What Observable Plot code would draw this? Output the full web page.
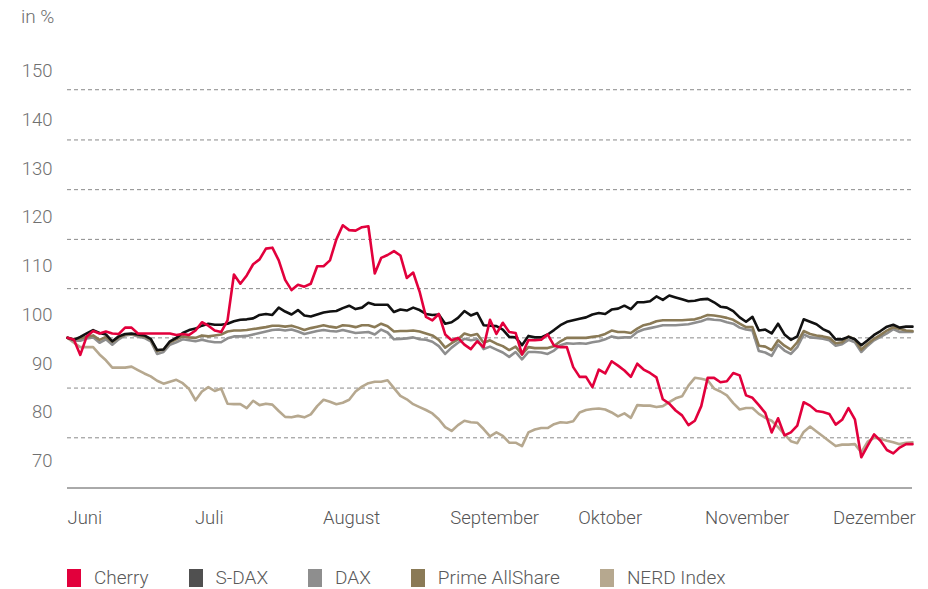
<!DOCTYPE html>
<html><head><meta charset="utf-8">
<script src="https://cdn.jsdelivr.net/npm/d3@7"></script>
<script src="https://cdn.jsdelivr.net/npm/@observablehq/plot@0.6"></script>
<style>
body{margin:0;background:#fff;font-family:Roboto,"Open Sans",sans-serif;font-weight:300;}
#wrap{position:relative;width:928px;height:589px;overflow:hidden;}
#unit{position:absolute;left:21px;top:5px;font-size:19px;color:#6e6e6e;line-height:24px;}
#chart{position:absolute;left:0;top:35px;}
#legend{position:absolute;left:67px;top:566px;display:flex;align-items:center;font-size:19px;color:#5a5a5a;line-height:24px;}
.item{display:flex;align-items:center;margin-right:40px;}
.sw{width:14px;height:18px;margin-right:13px;}
</style></head>
<body><div id="wrap"><div id="unit">in %</div><div id="chart"></div><div id="legend"></div></div>
<script>
const months = ["Juni","Juli","August","September","Oktober","November","Dezember"];
const monthTicks = [0,19.9,39.9,59.8,79.8,99.6,119.6];
const yTicks = [70,80,90,100,110,120,130,140,150];
const gridValues = [74.8,85.0,95.3,105.4,115.5,125.7,135.9,146.2];
const baseValue = 64.5;

const seriesNames = ["Cherry","S-DAX","DAX","Prime AllShare","NERD Index"];
const lineColors = ["#e2003c","#111111","#8e8e8e","#8a7a56","#b6a88f"];
const legendColors = ["#e2003c","#505050","#8e8e8e","#8a7a56","#b6a88f"];

const cherry = [95.3,94.9,91.8,95.6,96.7,96.2,96.6,96.2,96.1,97.4,
97.4,96.2,96.2,96.2,96.2,96.2,96.2,95.9,96.1,95.9,
96.8,98.5,97.8,96.8,96.5,98.9,108.3,106.4,108.1,110.4,
111.4,113.6,113.8,111.2,107.2,105.1,106.2,105.8,106.4,110.0,
110.0,111.2,115.5,118.4,117.4,117.3,118.0,118.2,108.5,111.7,
112.3,113.1,112.2,107.6,108.7,104.8,99.6,98.9,100.2,96.0,
94.8,95.3,93.9,93.0,94.6,93.4,99.0,96.1,98.4,96.5,
96.3,91.9,94.8,94.8,94.9,96.0,93.7,93.4,93.4,89.3,
87.3,87.3,85.2,88.8,88.0,90.5,89.6,88.6,87.3,90.0,
88.8,88.1,87.2,82.7,81.8,80.4,79.4,77.4,78.3,81.3,
87.1,87.1,86.2,86.4,88.1,87.6,83.5,83.0,81.5,79.9,
75.9,78.8,75.3,75.9,77.3,82.1,81.4,80.3,80.1,79.7,
77.5,78.5,80.9,78.6,70.8,73.2,75.5,74.2,72.3,71.6,
72.8,73.5,73.5];

const sdax = [95.3,94.9,95.5,96.2,96.9,96.3,96.0,94.6,95.6,96.1,
96.2,96.0,95.8,95.1,92.8,92.9,94.6,95.3,96.3,96.9,
97.2,97.8,98.2,98.0,98.0,98.2,98.7,99.0,99.1,99.3,
100.0,100.2,100.0,101.5,100.7,100.1,101.0,99.9,99.7,100.1,
100.5,100.7,100.8,101.4,101.9,101.2,101.5,102.5,102.1,102.1,
102.1,100.6,101.1,100.9,101.5,101.0,100.2,100.0,100.1,98.2,
98.5,99.4,100.8,99.9,100.4,97.9,97.8,97.7,97.0,95.5,
95.4,93.8,95.7,95.4,95.4,96.0,96.9,97.9,98.6,98.9,
99.2,99.5,100.1,100.4,100.2,101.1,101.3,101.9,101.2,102.6,
102.6,102.8,103.8,103.1,104.0,103.6,103.2,102.8,102.9,103.2,
103.3,102.6,101.7,101.5,100.8,99.5,98.6,99.6,96.8,97.0,
96.2,98.2,96.0,94.9,95.6,99.1,98.6,98.1,97.1,96.5,
95.0,95.0,95.5,95.0,93.8,94.8,95.9,96.7,97.6,98.0,
97.4,97.6,97.6];

const dax = [95.3,94.7,94.7,95.2,95.4,94.3,95.0,93.9,95.0,95.8,
96.0,95.6,95.3,94.6,92.0,92.4,93.9,94.4,95.0,94.8,
94.6,94.9,94.6,94.4,94.4,95.2,95.6,95.6,95.7,96.0,
96.3,96.6,96.9,97.0,96.8,97.0,96.6,96.1,96.4,96.7,
96.9,96.7,96.6,96.9,96.6,96.3,96.4,96.5,96.0,97.0,
96.4,95.0,95.1,95.2,95.4,95.0,94.9,94.5,93.6,92.0,
93.3,94.3,95.1,94.8,95.0,93.0,93.5,92.9,92.3,91.4,
92.4,90.9,92.4,92.4,92.3,92.0,92.7,93.8,94.2,94.1,
94.2,94.1,94.4,94.6,95.0,95.6,95.3,95.4,95.4,96.5,
97.0,97.3,97.6,97.9,97.9,97.9,98.0,98.1,98.4,98.7,
99.2,99.0,98.9,98.5,98.2,97.4,97.0,96.8,92.6,92.3,
91.6,93.9,92.7,92.0,93.4,96.0,95.4,95.3,95.1,94.8,
93.7,94.0,94.9,94.4,92.4,93.7,94.8,95.5,96.2,97.1,
96.5,96.5,96.5];

const prime = [95.3,95.0,95.2,95.5,95.8,94.9,95.5,94.5,95.4,96.0,
96.1,95.9,95.6,95.0,92.6,92.9,94.4,95.0,95.6,95.4,
95.3,95.8,95.6,95.8,96.0,96.6,96.8,96.8,96.9,97.1,
97.3,97.5,97.8,97.8,97.6,97.8,97.4,96.9,97.3,97.6,
97.9,97.6,97.4,97.9,97.8,97.5,97.9,97.9,97.5,98.2,
97.7,96.6,96.7,96.7,96.8,96.6,96.2,95.8,94.9,93.3,
94.2,95.0,96.2,95.8,96.1,94.3,94.8,94.1,93.6,92.8,
93.5,91.9,93.4,93.2,93.2,93.2,93.6,94.6,95.3,95.3,
95.3,95.3,95.5,95.7,96.1,96.8,96.5,96.5,96.3,97.2,
97.9,98.2,98.7,98.9,98.9,98.9,98.9,99.0,99.1,99.5,
100.0,99.9,99.7,99.4,99.0,98.2,97.5,97.5,93.7,93.5,
92.8,94.8,93.7,92.9,94.4,96.7,96.1,95.8,95.6,95.3,
94.2,94.4,95.6,95.0,92.9,94.1,95.1,95.9,96.8,97.5,
97.1,96.8,96.7];

const nerd = [95.3,94.3,93.4,93.4,93.4,91.9,90.7,89.2,89.2,89.2,
89.4,88.7,88.0,87.4,86.5,85.9,86.3,86.7,86.0,84.8,
82.5,84.3,85.2,84.4,84.9,81.8,81.7,81.7,80.9,82.4,
81.5,81.8,81.6,80.3,79.1,79.0,79.3,79.0,79.6,81.3,
82.6,82.2,81.7,82.0,82.6,84.3,85.3,86.0,86.3,86.3,
86.6,85.0,83.4,82.7,81.7,81.1,80.5,79.8,78.6,77.0,
76.2,77.4,78.3,78.0,77.9,76.6,75.1,75.9,75.2,73.8,
73.8,73.1,75.9,76.5,76.8,76.8,77.6,78.0,77.9,78.2,
80.0,80.5,80.7,80.8,80.6,80.0,79.2,79.8,78.9,81.5,
81.4,81.4,81.1,81.3,82.1,82.9,83.3,85.5,87.1,86.9,
86.6,84.9,84.3,83.5,81.9,80.6,80.9,80.9,79.7,78.9,
78.3,77.0,75.5,74.1,73.7,76.0,77.1,76.1,75.1,74.1,
73.1,73.4,73.4,73.5,71.8,74.0,74.8,74.6,74.2,73.9,
73.5,73.8,73.9];

const seriesValues = [cherry, sdax, dax, prime, nerd];
const drawOrder = [4, 2, 3, 1, 0];

const lineMarks = drawOrder.map(k =>
  Plot.line(seriesValues[k].map((v, i) => ({i, v})), {
    x: "i", y: "v", stroke: lineColors[k], strokeWidth: 2.6,
    strokeLinejoin: "round", strokeLinecap: "round"
  })
);

const chart = Plot.plot({
  width: 928, height: 510,
  marginLeft: 67, marginRight: 16, marginTop: 20, marginBottom: 57.7,
  x: {domain: [0, 132]},
  y: {domain: [70, 150], range: [425.7, 35.7]},
  style: {fontFamily: "Roboto, 'Open Sans', sans-serif", fontSize: "18.5px", fontWeight: 300, color: "#6e6e6e", background: "#fff"},
  marks: [
    Plot.ruleY(gridValues, {stroke: "#8a8a8a", strokeDasharray: "4,3", strokeWidth: 1}),
    Plot.ruleY([baseValue], {stroke: "#555", strokeWidth: 1}),
    Plot.axisY(yTicks, {anchor: "left", tickSize: 0, tickPadding: 15, label: null, fill: "#707070"}),
    Plot.axisX(monthTicks, {anchor: "bottom", tickSize: 0, tickPadding: 23, label: null, textAnchor: "start",
      tickFormat: d => months[monthTicks.indexOf(d)], fill: "#555"}),
    ...lineMarks
  ]
});
document.getElementById("chart").appendChild(chart);

const legend = document.getElementById("legend");
seriesNames.forEach((name, k) => {
  const item = document.createElement("div");
  item.className = "item";
  const sw = document.createElement("div");
  sw.className = "sw";
  sw.style.background = legendColors[k];
  const t = document.createElement("span");
  t.textContent = name;
  item.appendChild(sw); item.appendChild(t);
  legend.appendChild(item);
});
</script>
</body></html>
